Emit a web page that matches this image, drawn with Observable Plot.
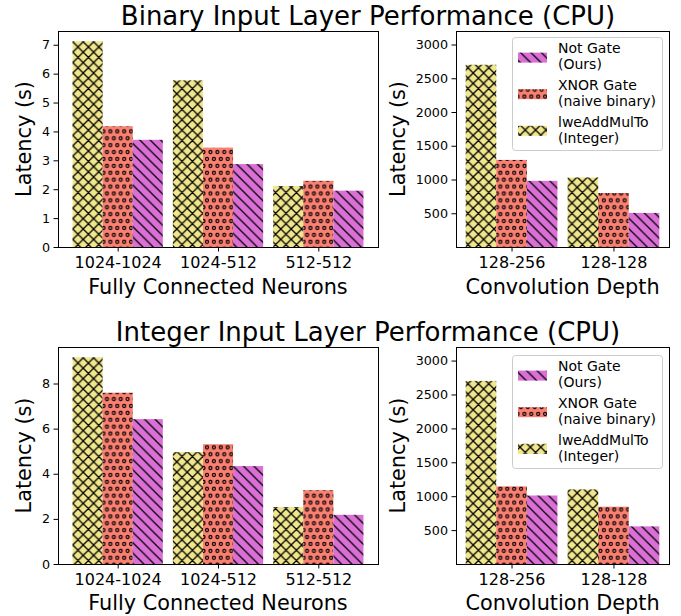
<!DOCTYPE html>
<html><head><meta charset="utf-8">
<script src="https://cdn.jsdelivr.net/npm/d3@7"></script>
<script src="https://cdn.jsdelivr.net/npm/@observablehq/plot@0.6"></script>
<style>
html,body{margin:0;padding:0;background:#fff;}
#fig{position:relative;width:681px;height:616px;overflow:hidden;background:#fff;font-family:"DejaVu Sans",sans-serif;}
#fig > svg{position:absolute;overflow:visible;}
</style></head><body><div id="fig"></div>
<script>
// ---------- data ----------
const fcGroups = ["1024-1024", "1024-512", "512-512"];
const convGroups = ["128-256", "128-128"];
const seriesNames = ["lweAddMulTo (Integer)", "XNOR Gate (naive binary)", "Not Gate (Ours)"];
const legendLines = [["Not Gate", "(Ours)"], ["XNOR Gate", "(naive binary)"], ["lweAddMulTo", "(Integer)"]];
const panelTitles = ["Binary Input Layer Performance (CPU)", "Integer Input Layer Performance (CPU)"];
const xLabels = ["Fully Connected Neurons", "Convolution Depth"];
const yLabel = "Latency (s)";

const binaryFcInteger = [7.12, 5.77, 2.11];
const binaryFcXnor    = [4.18, 3.44, 2.29];
const binaryFcNot     = [3.71, 2.87, 1.95];
const binaryConvInteger = [2700, 1030];
const binaryConvXnor    = [1290, 800];
const binaryConvNot     = [980, 505];
const integerFcInteger = [9.16, 4.96, 2.52];
const integerFcXnor    = [7.59, 5.31, 3.27];
const integerFcNot     = [6.42, 4.34, 2.18];
const integerConvInteger = [2700, 1100];
const integerConvXnor    = [1145, 845];
const integerConvNot     = [1010, 555];

const fcTicksBinary = [0, 1, 2, 3, 4, 5, 6, 7];
const fcTicksInteger = [0, 2, 4, 6, 8];
const convTicks = [500, 1000, 1500, 2000, 2500, 3000];
const convYMax = 3200;

// ---------- styles ----------
const colors = ["#F0E68C", "#FA8072", "#DA70D6"];
const patternIds = ["hatch-x", "hatch-o", "hatch-bs"];
const fig = document.getElementById("fig");

// pattern defs
const defsSvg = d3.select(fig).append("svg").attr("width", 0).attr("height", 0).style("left", 0).style("top", 0);
const defs = defsSvg.append("defs");
const hs = 10.4;
function bsPath(d) { let s = ""; for (const c of [-d, 0, d]) s += `M-1,${-1 + c}L${d + 1},${d + 1 + c}`; return s; }
function slashPath(d) { let s = ""; for (const c of [0, d, 2 * d]) s += `M-1,${c + 1}L${d + 1},${c - d - 1}`; return s; }
{
  const p = defs.append("pattern").attr("id", "hatch-x").attr("patternUnits", "userSpaceOnUse").attr("width", hs).attr("height", hs);
  p.append("rect").attr("width", hs).attr("height", hs).attr("fill", colors[0]);
  p.append("path").attr("d", bsPath(hs) + slashPath(hs)).attr("stroke", "black").attr("stroke-width", 1.3).attr("fill", "none");
}
{
  const p = defs.append("pattern").attr("id", "hatch-bs").attr("patternUnits", "userSpaceOnUse").attr("width", hs).attr("height", hs);
  p.append("rect").attr("width", hs).attr("height", hs).attr("fill", colors[2]);
  p.append("path").attr("d", bsPath(hs)).attr("stroke", "black").attr("stroke-width", 1.3).attr("fill", "none");
}
{
  const o = 6.9;
  const p = defs.append("pattern").attr("id", "hatch-o").attr("patternUnits", "userSpaceOnUse").attr("width", o).attr("height", 2 * o);
  p.append("rect").attr("width", o).attr("height", 2 * o).attr("fill", colors[1]);
  for (const [cx, cy] of [[0, 0], [o, 0], [0, 2 * o], [o, 2 * o], [o / 2, o]]) {
    p.append("circle").attr("cx", cx).attr("cy", cy).attr("r", 1.5).attr("fill", "none").attr("stroke", "black").attr("stroke-width", 1.2);
  }
}

// ---------- panels ----------
function panel({groups, series, yDomain, yTicks, left, top, width, frameH, marginLeft}) {
  const n = groups.length;
  const pad = 0.05 * (n - 1 + 0.9);
  const w = 0.3;
  const rows = groups.flatMap((g, gi) => series.map((vals, si) => ({g, gi, si, value: vals[gi]})));
  const marginTop = 10, marginBottom = 30;
  const svg = Plot.plot({
    width, height: marginTop + frameH + marginBottom,
    marginLeft, marginRight: 12, marginTop, marginBottom,
    style: {fontFamily: "DejaVu Sans", color: "black", background: "transparent", overflow: "visible"},
    x: {type: "linear", domain: [-0.45 - pad, n - 1 + 0.45 + pad]},
    y: {type: "linear", domain: yDomain},
    marks: [
      ...series.map((_, si) => Plot.rectY(rows.filter(r => r.si === si), {
        x1: r => r.gi + (si - 1) * w - w / 2,
        x2: r => r.gi + (si - 1) * w + w / 2,
        y1: 0, y2: "value",
        fill: `url(#${patternIds[si]})`
      })),
      Plot.axisX({ticks: d3.range(n), tickFormat: i => groups[i], fontSize: 16, tickSize: 4.5, tickPadding: 5, label: null}),
      Plot.axisY({ticks: yTicks, tickFormat: d3.format("d"), fontSize: 12.7, tickSize: 4.5, tickPadding: 4, label: null}),
      Plot.frame({stroke: "black", strokeWidth: 1})
    ]
  });
  svg.style.left = left + "px";
  svg.style.top = (top - marginTop) + "px";
  fig.appendChild(svg);
}

const fcMaxB = d3.max([...binaryFcInteger, ...binaryFcXnor, ...binaryFcNot]) * 1.05;
const fcMaxI = d3.max([...integerFcInteger, ...integerFcXnor, ...integerFcNot]) * 1.05;

panel({groups: fcGroups, series: [binaryFcInteger, binaryFcXnor, binaryFcNot], yDomain: [0, fcMaxB], yTicks: fcTicksBinary,
       left: 0, top: 31, width: 390, frameH: 216, marginLeft: 58});
panel({groups: convGroups, series: [binaryConvInteger, binaryConvXnor, binaryConvNot], yDomain: [0, convYMax], yTicks: convTicks,
       left: 390, top: 31, width: 291, frameH: 216, marginLeft: 66});
panel({groups: fcGroups, series: [integerFcInteger, integerFcXnor, integerFcNot], yDomain: [0, fcMaxI], yTicks: fcTicksInteger,
       left: 0, top: 347, width: 390, frameH: 217, marginLeft: 58});
panel({groups: convGroups, series: [integerConvInteger, integerConvXnor, integerConvNot], yDomain: [0, convYMax], yTicks: convTicks,
       left: 390, top: 347, width: 291, frameH: 217, marginLeft: 66});

// ---------- text overlay & legends ----------
const ov = d3.select(fig).append("svg").attr("width", 681).attr("height", 616).style("left", 0).style("top", 0)
  .style("font-family", "DejaVu Sans").style("pointer-events", "none");

ov.append("text").attr("x", 368).attr("y", 25).attr("text-anchor", "middle").attr("font-size", 26).text(panelTitles[0]);
ov.append("text").attr("x", 368).attr("y", 341).attr("text-anchor", "middle").attr("font-size", 26).text(panelTitles[1]);

for (const [bx, by] of [[30.5, 139], [404.5, 139], [30.5, 455.5], [404.5, 455.5]]) {
  ov.append("text").attr("transform", `translate(${bx},${by}) rotate(-90)`).attr("text-anchor", "middle").attr("font-size", 20.8).text(yLabel);
}
for (const [i, cx, by] of [[0, 218, 293.5], [1, 562.5, 293.5], [0, 218, 609.5], [1, 562.5, 609.5]]) {
  ov.append("text").attr("x", cx).attr("y", by).attr("text-anchor", "middle").attr("font-size", 20.8).text(xLabels[i]);
}

function legend(top) {
  const g = ov.append("g");
  g.append("rect").attr("x", 512.5).attr("y", top + 0.5).attr("width", 150).attr("height", 113).attr("rx", 3)
    .attr("fill", "white").attr("fill-opacity", 0.8).attr("stroke", "#cccccc").attr("stroke-width", 1);
  const order = [2, 1, 0];
  order.forEach((si, k) => {
    const cy = top + 20.6 + 36.6 * k;
    g.append("rect").attr("x", 518).attr("y", cy - 5).attr("width", 29).attr("height", 10).attr("fill", `url(#${patternIds[si]})`);
    const t = g.append("text").attr("font-size", 14).attr("x", 558);
    t.append("tspan").attr("x", 558).attr("y", cy - 4.3).text(legendLines[k][0]);
    t.append("tspan").attr("x", 558).attr("y", cy + 11.7).text(legendLines[k][1]);
  });
}
legend(37);
legend(355);
</script></body></html>
